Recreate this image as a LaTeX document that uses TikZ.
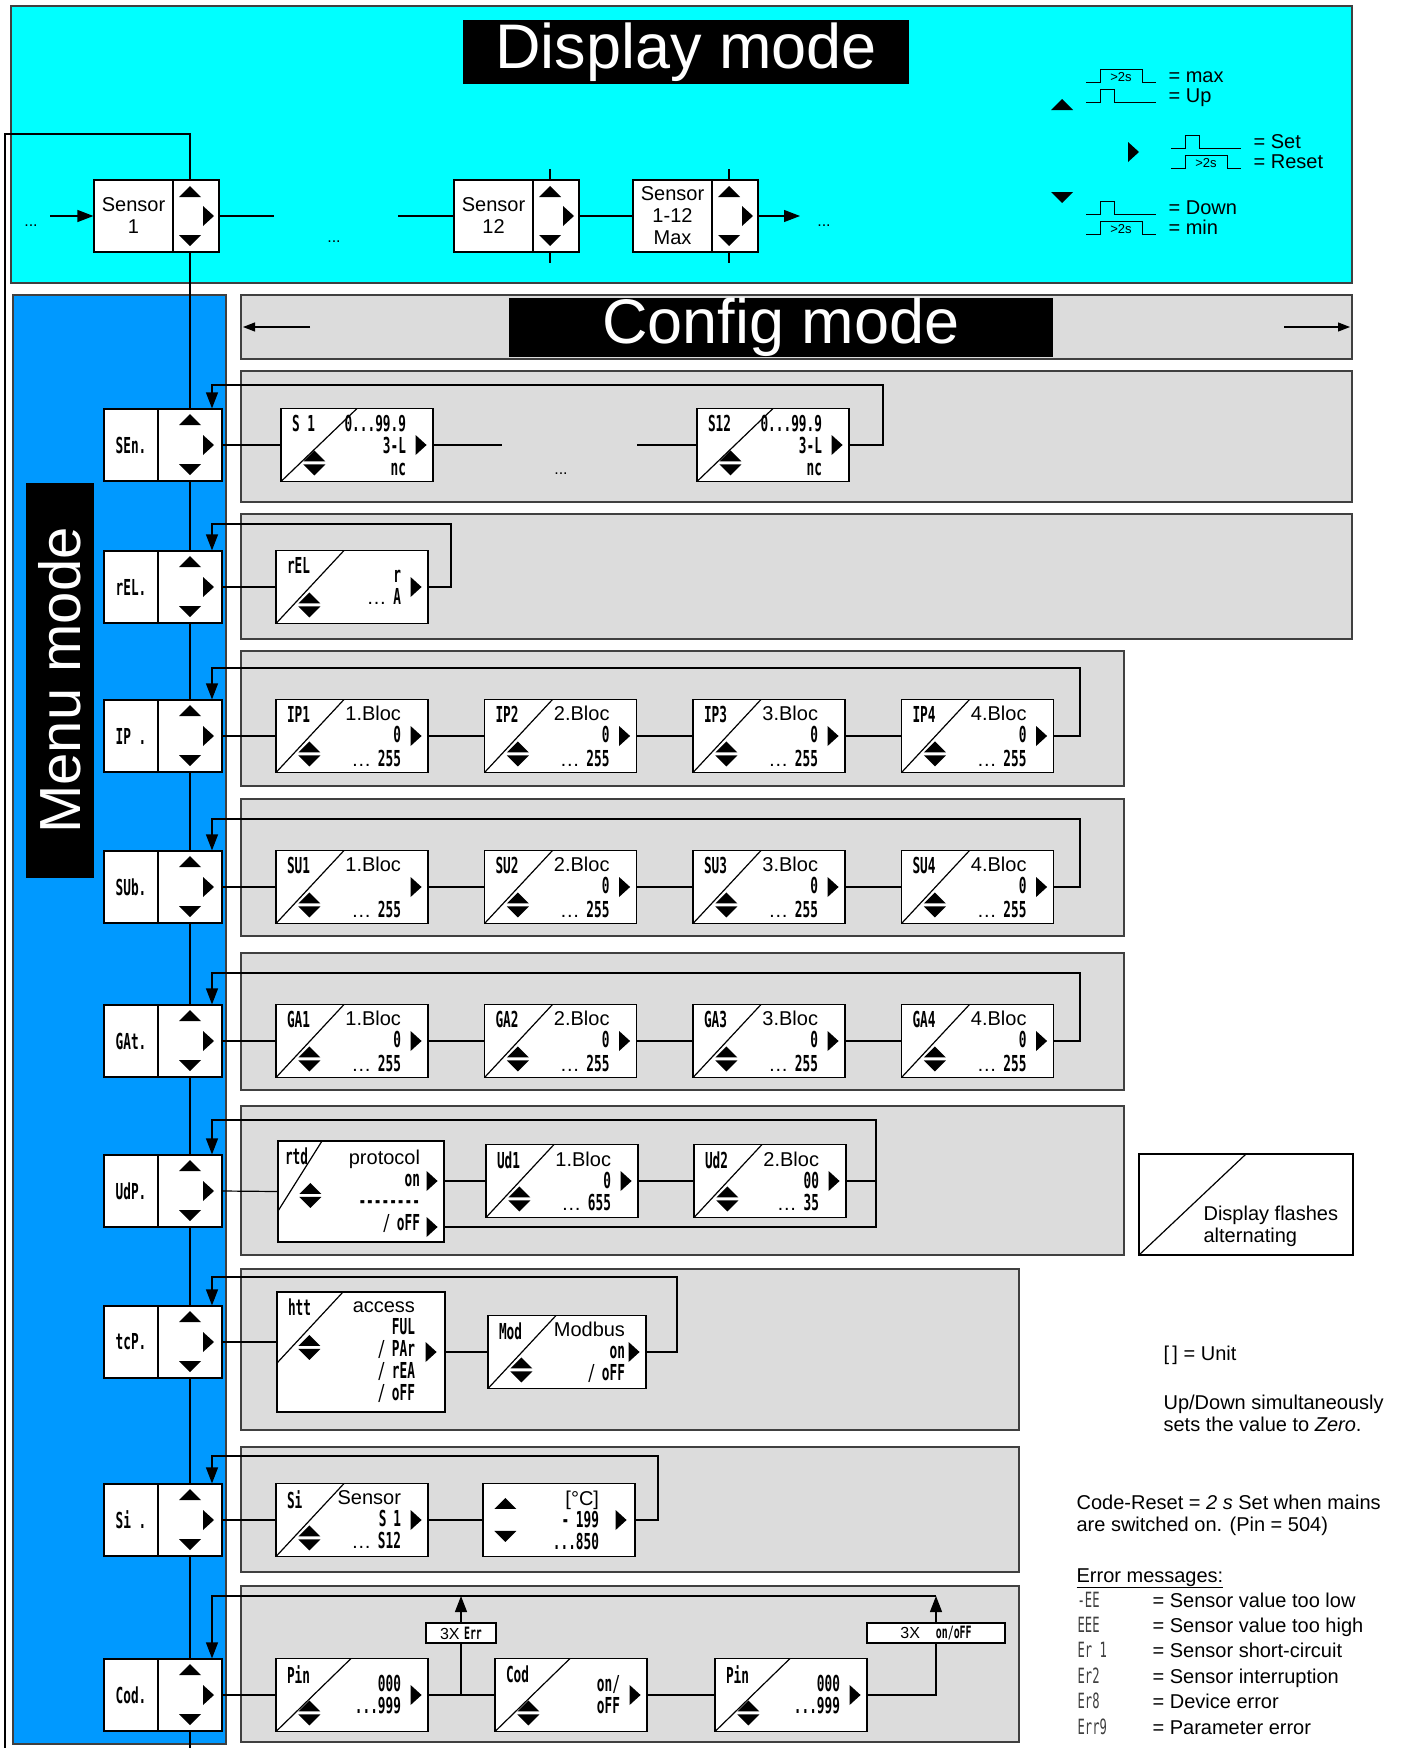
\documentclass[tikz,border=0pt]{standalone}
\usepackage{fontspec}
\setmainfont{Liberation Sans}
\newfontfamily\segfont[FakeStretch=0.58]{DejaVu Sans Mono}
\usetikzlibrary{arrows.meta, positioning}
\definecolor{dCyan}{HTML}{00FFFF}
\definecolor{mBlue}{HTML}{0099FF}
\definecolor{cGrey}{HTML}{DCDCDC}
\newcommand\sg{\segfont\bfseries\fontsize{22}{22}\selectfont}
\newcommand\sgs{\segfont\bfseries\fontsize{17}{18}\selectfont}
\newcommand\valbox[5][]{%
  \node[val, #1] (#2) at (#3) {#5};
  \node[tag] (#2-t) at ([shift={(11pt,-7pt)}]#2.north west) {#4};
  \pic at ([xshift=-13pt]#2.east) {tri rt};
  \pic at ([shift={(34pt,-55pt)}]#2.north west) {tri ud};}

\begin{document}
\begin{tikzpicture}[x=1pt, y=-1pt, line width=1.2pt,
  font=\fontsize{20}{22}\selectfont,
  panel/.style={draw=black!75, fill=cGrey},
  lbl/.style={draw, fill=white, minimum width=54, minimum height=72, inner sep=0, font=\sg},
  key/.style={draw, fill=white, minimum width=64, minimum height=72, inner sep=0},
  sens/.style={draw, fill=white, minimum width=79, minimum height=72, inner sep=0, align=center},
  skey/.style={draw, fill=white, minimum width=46, minimum height=72, inner sep=0},
  diag/.style 2 args={path picture={\draw ([yshift=-#2]path picture bounding box.north west)
              -- ([xshift=#1]path picture bounding box.north west);}},
  val/.style={draw, fill=white, minimum width=152, minimum height=73, text width=98,
              align=right, inner sep=0, diag={68pt}{73pt}},
  tag/.style={font=\sg, anchor=north west, inner sep=0},
  flag/.style={draw, fill=white, minimum height=20, inner sep=0, font=\fontsize{16}{18}\selectfont},
  head/.style={fill=black, text=white, inner sep=0, font=\fontsize{63}{63}\selectfont},
  note/.style={anchor=base west, inner sep=0, align=left},
  flow/.style={-{Triangle[length=16pt,width=12pt]}},
  tri up/.pic={\fill (-11,5) -- (11,5) -- (0,-6) -- cycle;},
  tri dn/.pic={\fill (-11,-5) -- (11,-5) -- (0,6) -- cycle;},
  tri rt/.pic={\fill (-5,-10) -- (-5,10) -- (6,0) -- cycle;},
  tri ud/.pic={\fill (-11,-1.5) -- (11,-1.5) -- (0,-12.5) -- cycle;
               \fill (-11,1.5) -- (11,1.5) -- (0,12.5) -- cycle;},
  pshort/.pic={\draw[line width=1pt] (0,0) -- (14,0) -- (14,-13) -- (28,-13) -- (28,0) -- (70,0);},
  plong/.pic={\draw[line width=1pt] (0,0) -- (14,0) -- (14,-13) -- (56,-13) -- (56,0) -- (70,0);
              \node[font=\fontsize{13}{13}\selectfont, inner sep=0] at (35,-5) {>2s};}]
  \useasboundingbox (0,0) rectangle (1419,1748);

  % display mode
  \draw[fill=dCyan, draw=black!75] (11,6) rectangle (1352,283);
  \node[head, minimum width=446, minimum height=64] (dmode) at (686,52) {Display mode};
  \node[sens] (d1) at (133.5,216) {Sensor\\1};
  \node[skey] (kd1) at (196,216) {};
  \node[sens] (d12) at (493.5,216) {Sensor\\12};
  \node[skey] (kd12) at (556,216) {};
  \node[sens] (dmax) at (672.5,216) {Sensor\\1-12\\Max};
  \node[skey] (kdmax) at (735,216) {};
  \foreach \k in {kd1,kd12,kdmax}{
    \pic at ([shift={(-6pt,24pt)}]\k.center) {tri up};
    \pic at ([shift={(-6pt,-24pt)}]\k.center) {tri dn};
    \pic at ([xshift=12pt]\k.center) {tri rt};}
  \foreach \k in {kd12,kdmax}{
    \draw ([xshift=-6pt]\k.north) -- ++(0,-10);
    \draw ([xshift=-6pt]\k.south) -- ++(0,10);}
  \coordinate (din) at (50,216);
  \coordinate (da) at (274,216);
  \coordinate (db) at (398,216);
  \coordinate (dout) at (800,216);
  \draw[flow] (din) -- (d1.west);
  \draw (kd1.east) -- (da);
  \draw (db) -- (d12.west);
  \draw (kd12.east) -- (dmax.west);
  \draw[flow] (kdmax.east) -- (dout);
  \node[font=\fontsize{16}{16}\selectfont, anchor=base] (dd1) at (31,226) {...};
  \node[font=\fontsize{16}{16}\selectfont, anchor=base] (dd2) at (334,242) {...};
  \node[font=\fontsize{16}{16}\selectfont, anchor=base] (dd3) at (824,226) {...};

  % key legend
  \pic at (1062,105) {tri up};
  \pic at (1133,152) {tri rt};
  \pic at (1062,197) {tri dn};
  \pic at (1086,82) {plong};
  \pic at (1086,102) {pshort};
  \pic at (1171,148) {pshort};
  \pic at (1171,168) {plong};
  \pic at (1086,214) {pshort};
  \pic at (1086,234) {plong};
  \node[note] (lmax) at (1168,82) {= max};
  \node[note] (lup) at (1168,102) {= Up};
  \node[note] (lset) at (1253,148) {= Set};
  \node[note] (lres) at (1253,168) {= Reset};
  \node[note] (ldn) at (1168,214) {= Down};
  \node[note] (lmin) at (1168,234) {= min};

  % config mode
  \draw[panel] (241,295) rectangle (1352,359);
  \node[head, minimum width=544, minimum height=59] (cmode) at (781,327.5) {Config mode};
  \coordinate (cl1) at (310,327);
  \coordinate (cl2) at (243,327);
  \coordinate (cr1) at (1284,327);
  \coordinate (cr2) at (1350,327);
  \draw[-{Triangle[length=12pt,width=9pt]}] (cl1) -- (cl2);
  \draw[-{Triangle[length=12pt,width=9pt]}] (cr1) -- (cr2);
  \foreach \xa/\ya/\xb/\yb in {241/371/1352/502, 241/514/1352/639, 241/651/1124/786,
      241/799/1124/936, 241/953/1124/1090, 241/1106/1124/1255, 241/1269/1019/1430,
      241/1447/1019/1572, 241/1586/1019/1742}
    \draw[panel] (\xa,\ya) rectangle (\xb,\yb);

  % menu mode
  \draw[fill=mBlue, draw=black!75] (13,295) rectangle (226,1744);
  \node[head, rotate=90, minimum width=395, minimum height=68,
        font=\fontsize{58}{58}\selectfont] (mmode) at (60,680.5) {Menu mode};
  \foreach \nm/\lab/\y in {sen/SEn./445, rel/rEL./587, ip/IP ./736, sub/SUb./887,
      gat/GAt./1041, udp/UdP./1191, tcp/tcP./1342, si/Si ./1520, cod/Cod./1695}{
    \node[lbl] (\nm) at (131,\y) {\lab};
    \node[key] (k\nm) at (190,\y) {};
    \pic at ([yshift=25pt]k\nm.center) {tri up};
    \pic at ([yshift=-24pt]k\nm.center) {tri dn};
    \pic at ([xshift=18pt]k\nm.center) {tri rt};}
  \coordinate (tl) at (5,134);
  \coordinate (bl) at (5,1748);
  \draw ([xshift=-6pt]kd1.north) |- (tl) -- (bl);
  \draw ([xshift=-6pt]kd1.south) -- (ksen.north);
  \foreach \ka/\kb in {ksen/krel, krel/kip, kip/ksub, ksub/kgat, kgat/kudp,
      kudp/ktcp, ktcp/ksi, ksi/kcod}
    \draw (\ka.south) -- (\kb.north);
  \draw (kcod.south) -- (kcod.south |- bl);

  % SEn
  \valbox[diag={76pt}{73pt}]{sen1}{357,445}{S 1}{{\sg 0...99.9}\\{\sg 3-L}\\{\sg nc}}
  \valbox[diag={76pt}{73pt}]{sen12}{773,445}{S12}{{\sg 0...99.9}\\{\sg 3-L}\\{\sg nc}}
  \coordinate (sa) at (502,445);
  \coordinate (sb) at (637,445);
  \node[font=\fontsize{16}{16}\selectfont, anchor=base] (sdots) at (561,474) {...};
  \draw (ksen.east) -- (sen1.west);
  \draw (sen1.east) -- (sa);
  \draw (sb) -- (sen12.west);
  \coordinate (lsen) at (883,385);
  \draw[flow] (sen12.east) -| (lsen) -| ([xshift=22pt]ksen.north);

  % rEL
  \valbox{rel1}{352,587}{rEL}{{\sg r}\\\dots{} {\sg A}}
  \draw (krel.east) -- (rel1.west);
  \coordinate (lrel) at (451,524);
  \draw[flow] (rel1.east) -| (lrel) -| ([xshift=22pt]krel.north);

  % IP, SUb, GAt
  \foreach \nm/\tg/\y/\ly/\fv in {ip/IP/736/668/0, sub/SU/887/819/{}, gat/GA/1041/973/0}{
    \foreach \i [evaluate=\i as \x using 352+208.5*(\i-1)] in {1,...,4}{
      \valbox{\nm\i}{\x,\y}{\tg\i}{\i.Bloc\\{\sg\ifnum\i=1 \fv\else 0\fi}\strut\\\dots{} {\sg 255}}}
    \draw (k\nm.east) -- (\nm1.west);
    \foreach \i [count=\j from 2] in {1,2,3}
      \draw (\nm\i.east) -- (\nm\j.west);
    \coordinate (l\nm) at (1080,\ly);
    \draw[flow] (\nm4.east) -| (l\nm) -| ([xshift=22pt]k\nm.north);}

  % UdP
  \node[val, minimum width=166, minimum height=101, text width=118, diag={44pt}{70pt}] (rtd)
    at (361,1191.5) {protocol\\{\sg on}\\{\sg --------}\\{\sg / oFF}};
  \node[tag] (rtd-t) at ([shift={(7pt,-7pt)}]rtd.north west) {rtd};
  \pic at ([shift={(-13pt,10.5pt)}]rtd.east) {tri rt};
  \pic at ([shift={(-13pt,-35.5pt)}]rtd.east) {tri rt};
  \pic at ([shift={(33pt,-55pt)}]rtd.north west) {tri ud};
  \valbox{ud1}{562,1181}{Ud1}{1.Bloc\\{\sg 0}\\\dots{} {\sg 655}}
  \valbox{ud2}{770,1181}{Ud2}{2.Bloc\\{\sg 00}\\\dots{} {\sg 35}}
  \coordinate (ludp) at (876,1120);
  \draw (kudp.east) -- (rtd.west);
  \draw ([yshift=10.5pt]rtd.east) -- (ud1.west);
  \draw (ud1.east) -- (ud2.west);
  \draw (ud2.east) -- (ud2.east -| ludp);
  \draw[flow] ([yshift=-35.5pt]rtd.east) -| (ludp) -| ([xshift=22pt]kudp.north);

  % tcP
  \node[val, minimum width=168, minimum height=120, text width=108, diag={66pt}{71pt}] (htt)
    at (361,1352) {access\\{\sg FUL}\\{\sg / PAr}\\{\sg / rEA}\\{\sg / oFF}};
  \node[tag] (htt-t) at ([shift={(11pt,-7pt)}]htt.north west) {htt};
  \pic at ([xshift=-15pt]htt.east) {tri rt};
  \pic at ([shift={(33pt,-56pt)}]htt.north west) {tri ud};
  \valbox[minimum width=158, text width=116]{mod}{567,1352}{Mod}{Modbus\\{\sg on}\\{\sg / oFF}}
  \coordinate (ltcp) at (677,1277);
  \draw (ktcp.east) -- (ktcp.east -| htt.west);
  \draw (htt.east) -- (mod.west);
  \draw[flow] (mod.east) -| (ltcp) -| ([xshift=22pt]ktcp.north);

  % Si
  \valbox{si1}{352,1520}{Si}{Sensor\\{\sg S 1}\\\dots{} {\sg S12}}
  \node[val, text width=80, path picture={}] (unit) at (559,1520) {[°C]\\{\sg - 199}\\{\sg ...850}};
  \pic at ([shift={(23pt,-21pt)}]unit.north west) {tri up};
  \pic at ([shift={(23pt,-53pt)}]unit.north west) {tri dn};
  \pic at ([xshift=-15pt]unit.east) {tri rt};
  \coordinate (lsi) at (658,1456);
  \draw (ksi.east) -- (si1.west);
  \draw (si1.east) -- (unit.west);
  \draw[flow] (unit.east) -| (lsi) -| ([xshift=22pt]ksi.north);

  % Cod
  \valbox[diag={75pt}{73pt}]{pin1}{352,1695}{Pin}{{\sg 000}\\{\sg ...999}}
  \valbox[diag={75pt}{73pt}]{cod1}{571,1695}{Cod}{{\sg on/}\hspace*{20pt}\\{\sg oFF}\hspace*{20pt}}
  \valbox[diag={75pt}{73pt}]{pin2}{791,1695}{Pin}{{\sg 000}\\{\sg ...999}}
  \node[flag, minimum width=70] (e1) at (461,1633) {3X {\sgs Err}};
  \node[flag, minimum width=138] (e2) at (936,1633) {3X\quad{\sgs on/oFF}};
  \coordinate (lcod) at (936,1596);
  \draw (kcod.east) -- (pin1.west);
  \draw (pin1.east) -- (cod1.west);
  \draw (cod1.east) -- (pin2.west);
  \draw (e1.south |- pin1.east) -- (e1.south);
  \draw[flow] (e1.north) -- (e1.north |- lcod);
  \draw (pin2.east) -| (e2.south);
  \draw[flow] (e2.north) -- (lcod);
  \draw[flow] (lcod) -| ([xshift=22pt]kcod.north);

  % notes
  \node[draw, fill=white, minimum width=214, minimum height=101, diag={107pt}{101pt}] (flash)
    at (1246,1204.5) {};
  \node[note] (flasht) at (1203,1242) {Display flashes\\alternating};
  \node[note] (unitt) at (1163,1360) {[\,] = Unit};
  \node[note] (zero) at (1163,1431) {Up/Down simultaneously\\sets the value to \textit{Zero}.};
  \node[note] (codet) at (1076,1531) {Code-Reset = \textit{2 s} Set when mains\\are switched on. (Pin = 504)};
  \node[note] (errh) at (1076,1582) {\underline{Error messages:}};
  \foreach \c/\m [count=\i] in {-EE/Sensor value too low, EEE/Sensor value too high,
      Er 1/Sensor short-circuit, Er2/Sensor interruption, Er8/Device error, Err9/Parameter error}{
    \node[note, font=\segfont\fontsize{21}{22}\selectfont, text=black!75] (ec\i)
      at (1077,{1607+25.4*(\i-1)}) {\c};
    \node[note] (em\i) at (1152,{1607+25.4*(\i-1)}) {= \m};}
\end{tikzpicture}
\end{document}
